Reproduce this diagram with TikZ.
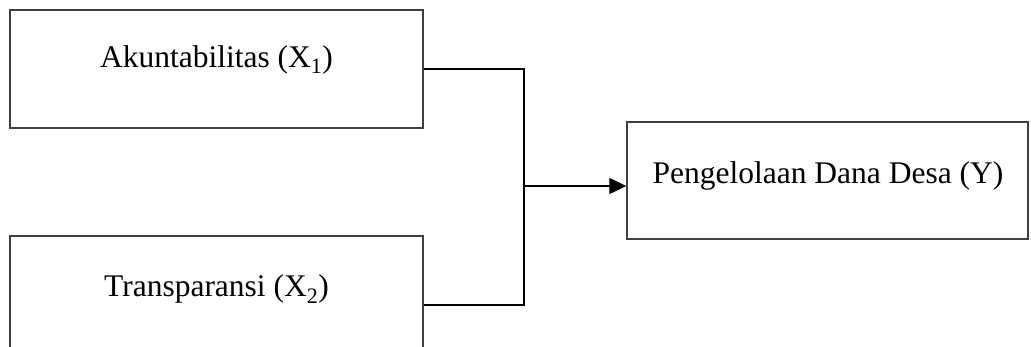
\documentclass[tikz,border=0pt]{standalone}
\usepackage{fontspec}
\setmainfont{Liberation Serif}
\usetikzlibrary{arrows.meta}
\begin{document}
\begin{tikzpicture}[x=1pt,y=-1pt,
  box/.style={draw=black!75, line width=1.4pt, inner sep=0pt},
  lbl/.style={inner sep=0pt, anchor=base, font=\fontsize{31.5}{38}\selectfont},
  conn/.style={draw=black, line width=1.3pt},
  arrowline/.style={conn, -{Triangle[length=17pt,width=16pt]}}]
\useasboundingbox (0,0) rectangle (1031,347);
\clip (0,0) rectangle (1031,347);

% variable boxes
\node[box, minimum width=413pt, minimum height=118pt] (x1) at (216.5,69) {};
\node[box, minimum width=413pt, minimum height=124pt] (x2) at (216.5,298) {};
\node[box, minimum width=401pt, minimum height=117pt] (y) at (827.5,180.5) {};

% labels
\node[lbl] (t1) at (216.5,68) {Akuntabilitas (X\textsubscript{1})};
\node[lbl] (t2) at (216.5,297) {Transparansi (X\textsubscript{2})};
\node[lbl] (ty) at (828,184) {Pengelolaan Dana Desa (Y)};

% connectors
\coordinate (j) at (524,186);
\coordinate (h2) at (0,305);
\draw[conn] (x1.east) -| (j) |- (x2.east |- h2);
\draw[arrowline] (j) -- (y.west |- j);
\end{tikzpicture}
\end{document}
